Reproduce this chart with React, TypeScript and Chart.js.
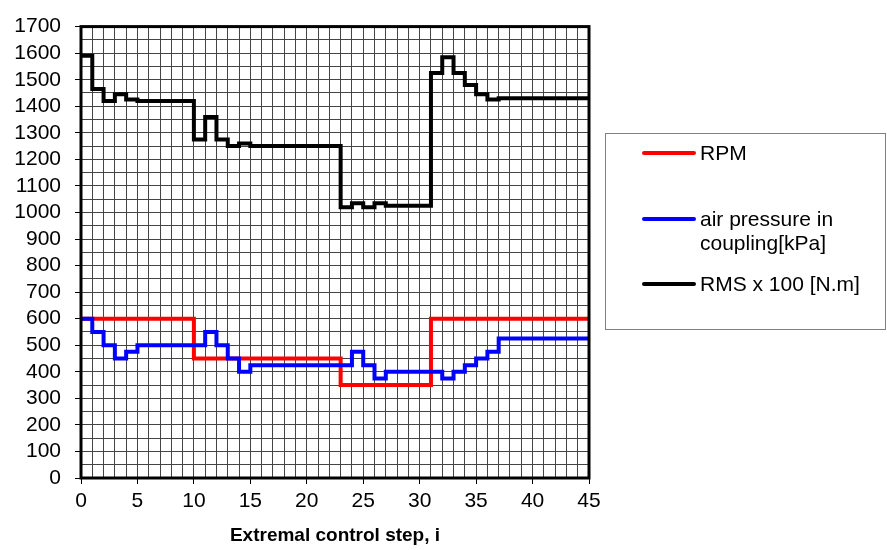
import React, { useEffect, useRef } from "react";
import { Chart, registerables } from "chart.js";

Chart.register(...registerables);

const rpmX = [0, 10, 23, 31, 45];
const rpmY = [600, 450, 350, 600, 600];

const airX = [0, 1, 2, 3, 4, 5, 11, 12, 13, 14, 15, 24, 25, 26, 27, 32, 33, 34, 35, 36, 37, 45];
const airY = [600, 550, 500, 450, 475, 500, 550, 500, 450, 400, 425, 475, 425, 375, 400, 375, 400, 425, 450, 475, 525, 525];

const rmsX = [0, 1, 2, 3, 4, 5, 10, 11, 12, 13, 14, 15, 23, 24, 25, 26, 27, 31, 32, 33, 34, 35, 36, 37, 45];
const rmsY = [1590, 1465, 1420, 1445, 1425, 1420, 1275, 1360, 1275, 1250, 1260, 1250, 1020, 1035, 1020, 1035, 1025, 1525, 1585, 1525, 1480, 1445, 1425, 1430, 1430];

const seriesLabels = ["RPM", "air pressure in coupling[kPa]", "RMS x 100 [N.m]"];
const xTitle = "Extremal control step, i";

const FONT = "'Liberation Sans', Arial, sans-serif";

const toPts = (xs: number[], ys: number[]) => xs.map((x, i) => ({ x, y: ys[i] }));

const framePlugin = {
  id: "frame",
  afterDatasetsDraw(chart: any) {
    const { ctx, chartArea } = chart;
    ctx.save();
    ctx.strokeStyle = "#000";
    ctx.lineWidth = 3;
    ctx.strokeRect(chartArea.left, chartArea.top, chartArea.right - chartArea.left, chartArea.bottom - chartArea.top);
    ctx.restore();
  },
};

export default function App() {
  const ref = useRef<HTMLCanvasElement | null>(null);

  useEffect(() => {
    document.body.style.margin = "0";
    const canvas = ref.current;
    if (!canvas) return;
    const chart = new Chart(canvas, {
      type: "line",
      data: {
        datasets: [
          {
            label: seriesLabels[1],
            data: toPts(airX, airY),
            borderColor: "#0000ff",
            borderWidth: 4,
            pointRadius: 0,
            stepped: "before",
            order: 0,
          },
          {
            label: seriesLabels[0],
            data: toPts(rpmX, rpmY),
            borderColor: "#ff0000",
            borderWidth: 4,
            pointRadius: 0,
            stepped: "before",
            order: 1,
          },
          {
            label: seriesLabels[2],
            data: toPts(rmsX, rmsY),
            borderColor: "#000000",
            borderWidth: 4,
            pointRadius: 0,
            stepped: "before",
            order: 2,
          },
        ],
      },
      options: {
        animation: false,
        responsive: false,
        maintainAspectRatio: false,
        layout: { padding: { top: 15, right: 298, left: 0, bottom: 0 } },
        plugins: { legend: { display: false }, tooltip: { enabled: false } },
        scales: {
          x: {
            type: "linear",
            min: 0,
            max: 45,
            afterFit(scale: any) {
              scale.height = 72;
            },
            border: { display: false },
            grid: {
              color: "#444",
              lineWidth: 1,
              tickLength: 6,
              tickColor: (c: any) => (c.tick && c.tick.value % 5 === 0 ? "#000" : "rgba(0,0,0,0)"),
            },
            ticks: {
              stepSize: 1,
              autoSkip: false,
              maxRotation: 0,
              padding: 5,
              color: "#000",
              font: { family: FONT, size: 21 },
              callback: (v: any) => (Number(v) % 5 === 0 ? String(v) : ""),
            },
            title: {
              display: true,
              text: xTitle,
              color: "#000",
              font: { family: FONT, size: 19, weight: "bold" },
              padding: { top: 0, bottom: 3 },
            },
          },
          y: {
            min: 0,
            max: 1700,
            afterFit(scale: any) {
              scale.width = 81;
            },
            border: { display: false },
            grid: {
              color: "#444",
              lineWidth: 1,
              tickLength: 6,
              tickColor: (c: any) => (c.tick && c.tick.value % 100 === 0 ? "#000" : "rgba(0,0,0,0)"),
            },
            ticks: {
              stepSize: 50,
              autoSkip: false,
              padding: 14,
              color: "#000",
              font: { family: FONT, size: 21 },
              callback: (v: any) => (Number(v) % 100 === 0 ? String(v) : ""),
            },
          },
        },
      },
      plugins: [framePlugin],
    } as any);
    return () => chart.destroy();
  }, []);

  const lineStyle = (color: string, top: number): React.CSSProperties => ({
    position: "absolute",
    left: 642,
    top: top - 2,
    width: 54,
    height: 4,
    background: color,
    borderRadius: 2,
  });
  const textStyle = (top: number): React.CSSProperties => ({
    position: "absolute",
    left: 700,
    top,
    fontFamily: FONT,
    fontSize: 21,
    lineHeight: "24px",
    color: "#000",
    whiteSpace: "nowrap",
  });

  return (
    <div style={{ position: "relative", width: 887, height: 550, background: "#fff" }}>
      <canvas ref={ref} width={887} height={550} style={{ display: "block" }} />
      <div
        style={{
          position: "absolute",
          left: 605,
          top: 133,
          width: 279,
          height: 195,
          border: "1px solid #808080",
        }}
      />
      <div style={lineStyle("#ff0000", 153)} />
      <div style={textStyle(141)}>{seriesLabels[0]}</div>
      <div style={lineStyle("#0000ff", 219)} />
      <div style={textStyle(207)}>
        air pressure in
        <br />
        coupling[kPa]
      </div>
      <div style={lineStyle("#000000", 284)} />
      <div style={textStyle(272)}>{seriesLabels[2]}</div>
    </div>
  );
}
